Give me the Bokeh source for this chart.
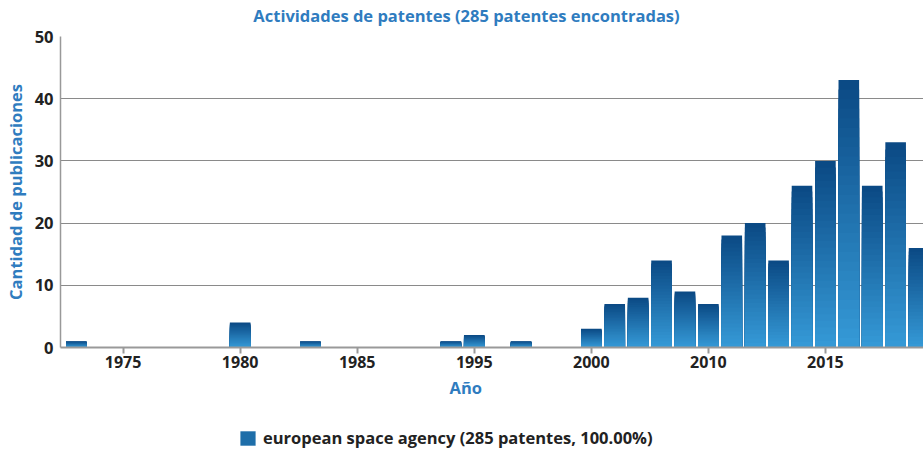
from bokeh.plotting import figure
from bokeh.models import Range1d, FixedTicker, Legend, LegendItem, Title, Label
from bokeh.layouts import column
from bokeh.embed import file_html
from bokeh.resources import INLINE

# ---- data ----
title_text = "Actividades de patentes (285 patentes encontradas)"
x_label = "Año"
y_label = "Cantidad de publicaciones"
series_name = "european space agency (285 patentes, 100.00%)"

# category slot of each bar on the x axis, and publications in that slot
slots = [0, 7, 10, 16, 17, 19, 22, 23, 24, 25, 26, 27, 28, 29, 30, 31, 32, 33, 34, 35, 36]
counts = [1, 4, 1, 1, 2, 1, 3, 7, 8, 14, 9, 7, 18, 20, 14, 26, 30, 43, 26, 33, 16]
tick_slots = [2, 7, 12, 17, 22, 27, 32]
tick_labels = ["1975", "1980", "1985", "1995", "2000", "2010", "2015"]
y_ticks = [0, 10, 20, 30, 40, 50]

FONT = "Open Sans"
BLUE = "#2f7cbf"
DARK = "#222222"
TOP_COL = (11, 74, 133)
BOT_COL = (53, 153, 214)
N_STRIPS = 28
W = 923
LEFT = 60


def strip_color(t):
    return "#%02x%02x%02x" % tuple(int(round(a + (b - a) * t)) for a, b in zip(TOP_COL, BOT_COL))


def bare(fig):
    fig.grid.visible = False
    fig.outline_line_color = None
    return fig


# ---- header with the title ----
head = bare(figure(width=W, height=26, output_backend="svg", toolbar_location=None,
                   x_range=Range1d(0, 1), y_range=Range1d(0, 1),
                   x_axis_location=None, y_axis_location=None,
                   min_border_left=LEFT, min_border_right=0, min_border_top=0, min_border_bottom=0))
head.add_layout(Label(x=406, y=11, x_units="screen", y_units="screen", text=title_text,
                      text_font=FONT, text_font_style="bold",
                      text_font_size="16.5px", text_color=BLUE,
                      text_align="center", text_baseline="middle"))

# ---- main chart ----
p = figure(width=W, height=394, output_backend="svg", toolbar_location=None,
           x_range=Range1d(-0.675, 36.19), y_range=Range1d(0, 50),
           min_border_left=LEFT, min_border_right=0, min_border_top=10, min_border_bottom=73)
p.outline_line_color = None

for k in range(N_STRIPS):
    frac = (N_STRIPS - k) / N_STRIPS
    p.vbar(x=slots, top=[c * frac for c in counts], bottom=0, width=0.88,
           fill_color=strip_color(k / (N_STRIPS - 1)), line_color=None)

p.xgrid.visible = False
p.ygrid.ticker = FixedTicker(ticks=y_ticks)
p.ygrid.grid_line_color = "#8a8a8a"
p.ygrid.grid_line_width = 1

xa = p.xaxis[0]
xa.ticker = FixedTicker(ticks=tick_slots)
xa.major_label_overrides = {s: l for s, l in zip(tick_slots, tick_labels)}
xa.major_label_text_font = FONT
xa.major_label_text_font_style = "bold"
xa.major_label_text_font_size = "16px"
xa.major_label_text_color = DARK
xa.major_label_standoff = 2
xa.axis_line_color = "#999999"
xa.axis_line_width = 2
xa.major_tick_line_color = "#999999"
xa.major_tick_line_width = 2
xa.major_tick_out = 6
xa.major_tick_in = 0
xa.minor_tick_out = 0
xa.minor_tick_in = 0

ya = p.yaxis[0]
ya.ticker = FixedTicker(ticks=y_ticks)
ya.major_label_text_font = FONT
ya.major_label_text_font_style = "bold"
ya.major_label_text_font_size = "16.5px"
ya.major_label_text_color = DARK
ya.major_label_standoff = 7
ya.axis_line_color = "#999999"
ya.axis_line_width = 1.5
ya.major_tick_out = 0
ya.major_tick_in = 0
ya.minor_tick_out = 0
ya.minor_tick_in = 0
ya.axis_label = y_label
ya.axis_label_text_font = FONT
ya.axis_label_text_font_style = "bold"
ya.axis_label_text_font_size = "16.5px"
ya.axis_label_text_color = BLUE
ya.axis_label_standoff = 5

p.add_layout(Title(text=x_label, align="left", offset=389, standoff=7,
                   text_font=FONT, text_font_style="bold", text_font_size="16.5px",
                   text_color=BLUE), "below")

# ---- legend strip underneath the chart ----
foot = bare(figure(width=W, height=30, output_backend="svg", toolbar_location=None,
                   x_range=Range1d(-0.675, 36.19), y_range=Range1d(-30, 0),
                   x_axis_location=None, y_axis_location=None,
                   min_border_left=LEFT, min_border_right=0, min_border_top=0, min_border_bottom=0))
# same series drawn here only to feed the legend key (bars lie outside this strip's view)
key = foot.vbar(x=slots, top=counts, bottom=0, width=0.88,
                fill_color=strip_color(0.45), line_color=None)
legend = Legend(items=[LegendItem(label=series_name, renderers=[key])],
                location=(178, 1), orientation="horizontal",
                padding=0, margin=0, spacing=0, glyph_width=19, glyph_height=18,
                label_height=18, label_standoff=6, border_line_color=None,
                background_fill_alpha=0,
                label_text_font=FONT, label_text_font_style="bold",
                label_text_font_size="16.5px", label_text_color=DARK)
foot.add_layout(legend, "center")

open("out.html", "w").write(file_html(column(head, p, foot, spacing=0), INLINE))
